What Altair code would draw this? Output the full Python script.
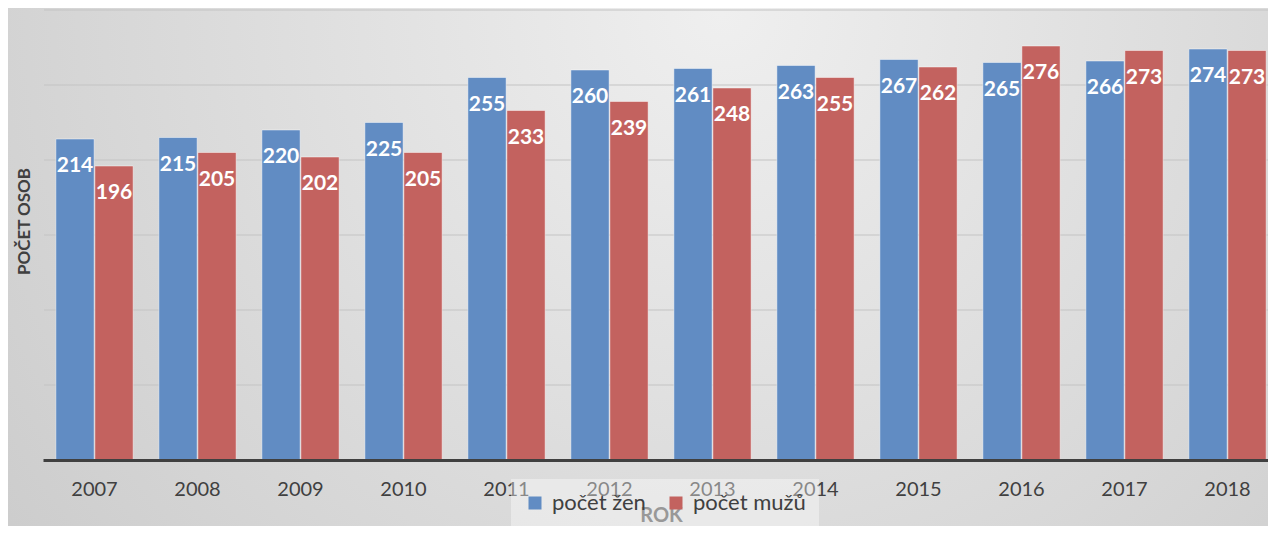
import altair as alt
import pandas as pd

years = ["2007", "2008", "2009", "2010", "2011", "2012", "2013", "2014", "2015", "2016", "2017", "2018"]
zeny = [214, 215, 220, 225, 255, 260, 261, 263, 267, 265, 266, 274]
muzi = [196, 205, 202, 205, 233, 239, 248, 255, 262, 276, 273, 273]
series = ["počet žen", "počet mužů"]
colors = ["#618cc3", "#c3625f"]
grid_values = [50, 100, 150, 200, 250, 300]

rows = []
for y, z, m in zip(years, zeny, muzi):
    rows.append({"rok": y, "skupina": series[0], "pocet": z})
    rows.append({"rok": y, "skupina": series[1], "pocet": m})
df = pd.DataFrame(rows)

FONT = "Lato"
W, H = 1224, 450

bg = alt.Chart(pd.DataFrame({"a": [0]})).mark_rect(
    fill=alt.RadialGradient(
        gradient="radial",
        stops=[alt.GradientStop(offset=0, color="#efefef"),
               alt.GradientStop(offset=1, color="#c4c4c4")],
        x1=0.55, y1=0.3, r1=0, x2=0.55, y2=0.3, r2=0.85,
    ),
    stroke=None,
).encode(
    x=alt.value(-38), x2=alt.value(W + 40),
    y=alt.value(-12), y2=alt.value(H + 90),
)

yscale = alt.Scale(domain=[0, 300], nice=False)
yaxis = alt.Axis(title="POČET OSOB", labels=False, ticks=False, domain=False,
                 grid=False, zindex=1,
                 titleFont=FONT, titleFontSize=17, titleFontWeight="bold",
                 titleColor="#404040", titleX=-11, titleY=211,
                 titleAlign="center", titleBaseline="bottom")
y = alt.Y("pocet:Q", scale=yscale, axis=yaxis)

grid = alt.Chart(pd.DataFrame({"pocet": grid_values})).mark_rule(
    color="#c4c4c4", strokeWidth=1.2).encode(
    y=y, x=alt.value(0), x2=alt.value(W))

x = alt.X("rok:N", sort=years,
          scale=alt.Scale(paddingInner=0.25, paddingOuter=0.125, range=[-1, 1235]),
          axis=alt.Axis(title="ROK", labelFont=FONT, labelFontSize=20, labelColor="#404040",
                        labelPadding=19, labelAngle=0, ticks=False,
                        domainColor="#404040", domainWidth=3, zindex=1,
                        titleFont=FONT, titleFontSize=20, titleFontWeight="bold",
                        titleColor="#595959", titlePadding=6, grid=False))

color = alt.Color("skupina:N", sort=series,
                  scale=alt.Scale(domain=series, range=colors),
                  legend=alt.Legend(title=None, orient="none", direction="horizontal",
                                    legendX=467, legendY=469, padding=13,
                                    fillColor="rgba(255,255,255,0.38)",
                                    symbolType="square", symbolSize=169,
                                    symbolStrokeWidth=0, labelOffset=6,
                                    columnPadding=19, zindex=2,
                                    labelFont=FONT, labelFontSize=22, labelColor="#404040"))

xoff = alt.XOffset("skupina:N", sort=series, scale=alt.Scale(paddingInner=0.02))

bars = alt.Chart(df).mark_bar(stroke="#ffffff", strokeOpacity=0.45, strokeWidth=1).encode(
    x=x, y=y, color=color, xOffset=xoff)

labels = alt.Chart(df).mark_text(
    font=FONT, fontSize=21, fontWeight="bold", color="white",
    baseline="middle", dy=27).encode(
    x=alt.X("rok:N", sort=years), y="pocet:Q", xOffset=xoff, text="pocet:Q")

chart = alt.layer(bg, grid, bars, labels).properties(
    width=W, height=H,
    autosize=alt.AutoSizeParams(type="none"),
    padding={"left": 36, "top": 2, "right": 0, "bottom": 66},
    background="#d2d2d2",
).configure_view(stroke=None)

chart.save("out.html", embed_options={"renderer": "svg", "actions": False})
